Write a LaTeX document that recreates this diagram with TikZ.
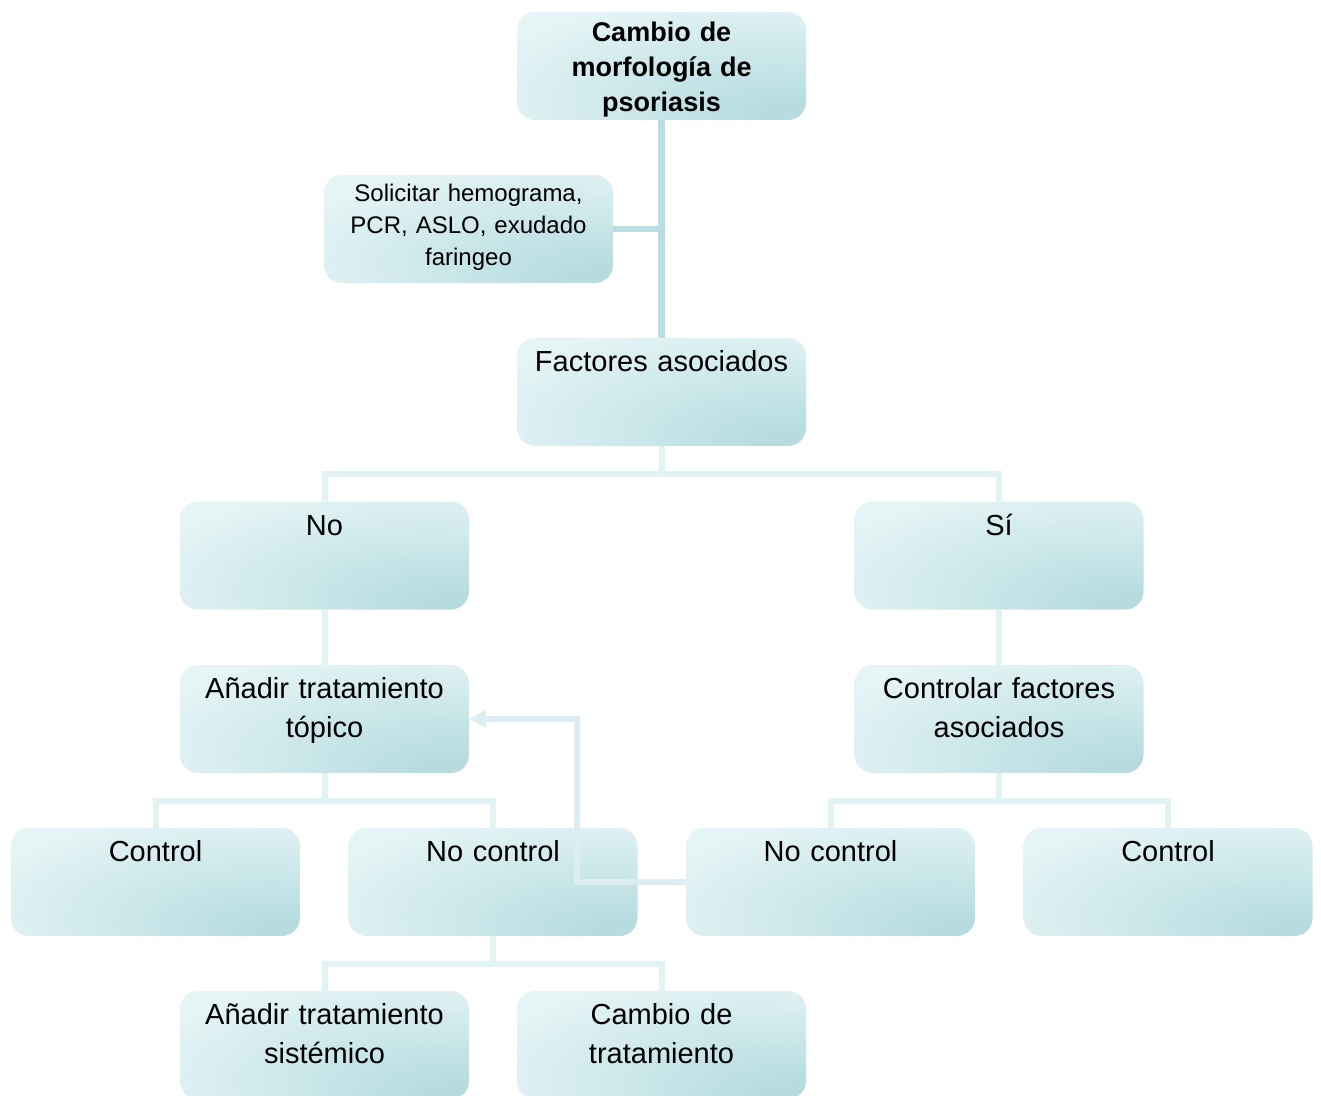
\documentclass[tikz,border=0pt]{standalone}
\usepackage{fontspec}
\setmainfont{Liberation Sans}
\usetikzlibrary{arrows.meta,calc,backgrounds}
\definecolor{boxlight}{RGB}{229,244,245}
\definecolor{boxdark}{RGB}{182,220,224}
\definecolor{linedark}{RGB}{184,222,226}
\definecolor{linepale}{RGB}{226,243,244}
\definecolor{linefb}{RGB}{220,238,243}

% fill of the boxes: darkest in the lower right corner, fading out
\pgfdeclareradialshading{boxshade}{\pgfpoint{25bp}{-25bp}}{%
  color(0bp)=(boxdark); color(6bp)=(boxdark);
  color(46bp)=(boxlight); color(100bp)=(boxlight)}

\begin{document}
\begin{tikzpicture}[x=1pt,y=-1pt,
  box/.style={rounded corners=18pt, minimum width=289pt, minimum height=108pt,
    inner sep=0pt, shading=boxshade},
  txt/.style={anchor=base, text width=285pt, align=center, inner sep=0pt,
    font=\fontsize{29}{39}\selectfont},
  txtbold/.style={txt, font=\fontsize{27}{35}\selectfont\bfseries},
  txtsmall/.style={txt, font=\fontsize{24}{32}\selectfont},
  trunk/.style={draw=linedark, line width=6.5pt},
  branch/.style={draw=linepale, line width=6pt},
  loopback/.style={draw=linefb, line width=5.5pt,
    -{Triangle[length=17pt,width=17pt]}}]
\useasboundingbox (0,0) rectangle (1321,1095);

% boxes
\node[box] (top)  at (661.5,66)   {};
\node[box] (sol)  at (468.5,229)  {};
\node[box] (fact) at (661.5,392)  {};
\node[box] (no)   at (324.5,555.5) {};
\node[box] (si)   at (999,555.5)  {};
\node[box] (topi) at (324.5,719)  {};
\node[box] (ctrl) at (999,719)    {};
\node[box] (cl)   at (155.5,882)  {};
\node[box] (ncl)  at (493,882)    {};
\node[box] (ncr)  at (830.5,882)  {};
\node[box] (cr)   at (1168,882)   {};
\node[box] (sis)  at (324.5,1045) {};
\node[box] (camb) at (661.5,1045) {};

% tree connectors, behind the boxes
\begin{pgfonlayer}{background}
  \draw[trunk] (top.south) -- (fact.north);
  \draw[trunk] (sol.east) -- (sol.east -| top.south);
  \draw[branch] (fact.south) -- ++(0,28) -| (no.north);
  \draw[branch] (fact.south) -- ++(0,28) -| (si.north);
  \draw[branch] (no.south) -- (topi.north);
  \draw[branch] (si.south) -- (ctrl.north);
  \draw[branch] (topi.south) -- ++(0,28) -| (cl.north);
  \draw[branch] (topi.south) -- ++(0,28) -| (ncl.north);
  \draw[branch] (ctrl.south) -- ++(0,28) -| (ncr.north);
  \draw[branch] (ctrl.south) -- ++(0,28) -| (cr.north);
  \draw[branch] (ncl.south) -- ++(0,28) -| (sis.north);
  \draw[branch] (ncl.south) -- ++(0,28) -| (camb.north);
\end{pgfonlayer}

% loop back from the right "No control" to the topical treatment
\draw[loopback] (ncr.west) -- ++(-109,0) |- (topi.east);

% texts
\node[txtbold]  (t-top)  at ($(top.north)+(0,30)$)  {Cambio de\\morfología de\\psoriasis};
\node[txtsmall] (t-sol)  at ($(sol.north)+(0,26.5)$) {Solicitar hemograma,\\PCR, ASLO, exudado\\faringeo};
\node[txt] (t-fact) at ($(fact.north)+(0,34)$) {Factores asociados};
\node[txt] (t-no)   at ($(no.north)+(0,34)$)   {No};
\node[txt] (t-si)   at ($(si.north)+(0,34)$)   {Sí};
\node[txt] (t-topi) at ($(topi.north)+(0,34)$) {Añadir tratamiento\\tópico};
\node[txt] (t-ctrl) at ($(ctrl.north)+(0,34)$) {Controlar factores\\asociados};
\node[txt] (t-cl)   at ($(cl.north)+(0,34)$)   {Control};
\node[txt] (t-ncl)  at ($(ncl.north)+(0,34)$)  {No control};
\node[txt] (t-ncr)  at ($(ncr.north)+(0,34)$)  {No control};
\node[txt] (t-cr)   at ($(cr.north)+(0,34)$)   {Control};
\node[txt] (t-sis)  at ($(sis.north)+(0,34)$)  {Añadir tratamiento\\sistémico};
\node[txt] (t-camb) at ($(camb.north)+(0,34)$) {Cambio de\\tratamiento};
\end{tikzpicture}
\end{document}
